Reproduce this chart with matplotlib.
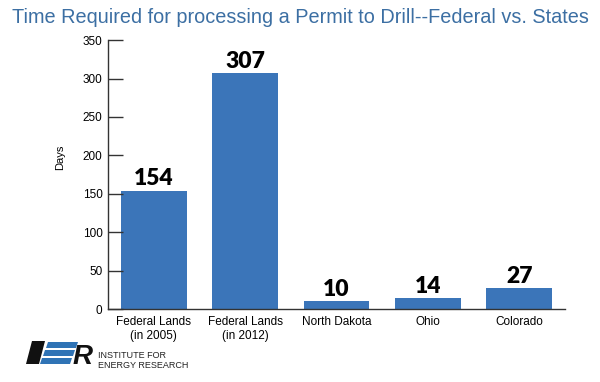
import matplotlib.pyplot as plt
from matplotlib.patches import Polygon
import numpy as np

# --- Data ---
categories = ['Federal Lands\n(in 2005)', 'Federal Lands\n(in 2012)', 'North Dakota', 'Ohio', 'Colorado']
days = [154, 307, 10, 14, 27]
yticks = [0, 50, 100, 150, 200, 250, 300, 350]

BAR_COLOR = '#3b75b9'
TITLE_COLOR = '#3c6fa3'

plt.rcParams['font.family'] = ['Liberation Sans', 'DejaVu Sans']

fig = plt.figure(figsize=(6.0, 3.82), dpi=100)
ax = fig.add_axes([0.18, 0.191, 0.7617, 0.704])

x = np.arange(len(categories))
ax.bar(x, days, width=0.72, color=BAR_COLOR)

for xi, v in zip(x, days):
    ax.text(xi, v + 2, str(v), ha='center', va='bottom',
            fontsize=16.5, fontweight='heavy', family=['Lato', 'DejaVu Sans'])

ax.set_xlim(-0.5, 4.5)
ax.set_ylim(0, 350)
ax.set_yticks(yticks)
ax.set_xticks(x)
ax.set_xticklabels(categories, fontsize=8.5)
ax.tick_params(axis='x', length=0, pad=5)
ax.tick_params(axis='y', direction='in', length=11, width=1, labelsize=8.5, pad=4, color='#333333')
ax.set_ylabel('Days', fontsize=8)
ax.yaxis.set_label_coords(-0.094, 0.565)

for side in ['top', 'right']:
    ax.spines[side].set_visible(False)
for side in ['left', 'bottom']:
    ax.spines[side].set_color('#333333')
    ax.spines[side].set_linewidth(1)

fig.text(0.02, 0.953, 'Time Required for processing a Permit to Drill--Federal vs. States',
         fontsize=14.3, color=TITLE_COLOR, ha='left', va='center')

# --- IER logo (pixel coords of the 600x382 figure) ---
W, H = 600, 382

def add_shape(pts, color):
    pts = [(px / W, 1 - py / H) for px, py in pts]
    fig.patches.append(Polygon(pts, closed=True, transform=fig.transFigure,
                               facecolor=color, edgecolor='none'))

add_shape([(32, 341), (45, 341), (39, 364), (26, 364)], '#111111')   # I
for x0, y0 in [(48, 342), (45, 350), (42, 358)]:                    # E stripes
    add_shape([(x0, y0), (x0 + 30, y0), (x0 + 28, y0 + 6), (x0 - 2, y0 + 6)], '#2f73b5')
fig.text(73 / W, 1 - 364 / H, 'R', fontsize=20, fontweight='bold', style='italic',
         ha='left', va='baseline', color='#111111')
fig.text(98 / W, 1 - 355.5 / H, 'INSTITUTE FOR', fontsize=6.5,
         ha='left', va='center', color='#222222')
fig.text(98 / W, 1 - 366 / H, 'ENERGY RESEARCH', fontsize=6.5,
         ha='left', va='center', color='#222222')

fig.savefig('out.png', dpi=100)
